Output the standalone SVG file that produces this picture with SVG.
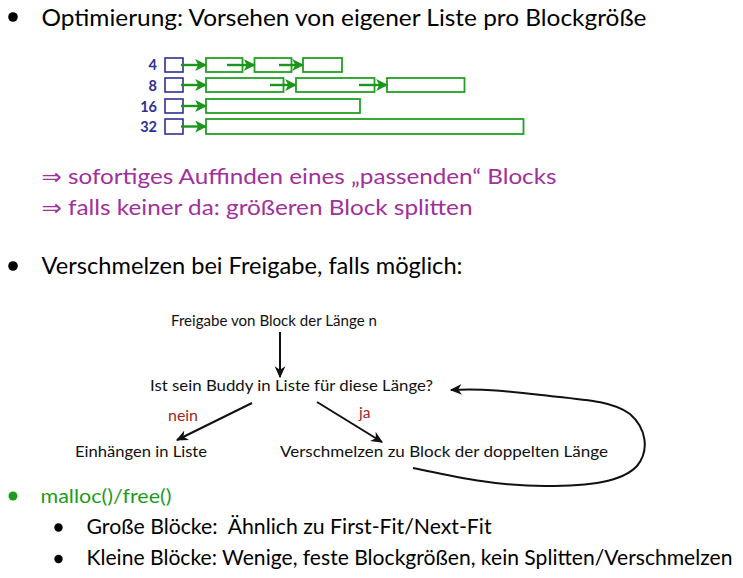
<svg xmlns="http://www.w3.org/2000/svg" width="743" height="578" viewBox="0 0 743 578">
  <defs>
    <style>
      text { font-family: Lato, "Liberation Sans", "DejaVu Sans", sans-serif; }
      .main { font-size: 23.5px; fill: #000; }
      .pink { font-size: 21px; fill: #a0309c; }
      .green { font-size: 19.5px; fill: #1e9b1e; }
      .sub { font-size: 20.5px; fill: #000; }
      .flow { font-size: 16px; fill: #111; }
      .lbl { font-size: 15.5px; fill: #a0261e; }
      .num { font-size: 14.5px; fill: #2e3192; font-weight: bold; text-anchor: end; }
      .hd { fill: none; stroke: #2e3192; stroke-width: 1.6; }
      .blk { fill: none; stroke: #22a022; stroke-width: 1.8; }
      .garr { fill: none; stroke: #1a961a; stroke-width: 2.4; marker-end: url(#gHead); }
      .karr { fill: none; stroke: #111; stroke-width: 2; marker-end: url(#kHead); }
    </style>
    <marker id="gHead" viewBox="0 0 10 10" refX="9" refY="5" markerWidth="5" markerHeight="5" orient="auto" markerUnits="strokeWidth">
      <path d="M0,0 L10,5 L0,10 L2.5,5 Z" fill="#1a961a"/>
    </marker>
    <marker id="kHead" viewBox="0 0 10 10" refX="9" refY="5" markerWidth="6" markerHeight="6" orient="auto" markerUnits="strokeWidth">
      <path d="M0,0.5 L10,5 L0,9.5 L3,5 Z" fill="#111"/>
    </marker>
  </defs>

  <rect width="743" height="578" fill="#fff"/>

  <g id="bullet-optimierung">
    <circle cx="13" cy="17" r="4.8" fill="#000"/>
    <text class="main" x="41.5" y="26" textLength="605" lengthAdjust="spacingAndGlyphs">Optimierung: Vorsehen von eigener Liste pro Blockgröße</text>
  </g>

  <g id="blocklists">
    <g id="row-4">
      <text class="num" x="157" y="70">4</text>
      <rect class="hd" x="165" y="58" width="18" height="14"/>
      <rect class="blk" x="206" y="58" width="36.5" height="14"/>
      <rect class="blk" x="254.5" y="58" width="37" height="14"/>
      <rect class="blk" x="303" y="58" width="39" height="14"/>
    </g>
    <g id="row-8">
      <text class="num" x="157" y="91">8</text>
      <rect class="hd" x="165" y="78" width="18" height="14"/>
      <rect class="blk" x="206" y="78" width="77.5" height="14"/>
      <rect class="blk" x="296" y="78" width="78.5" height="14"/>
      <rect class="blk" x="387" y="78" width="77.5" height="14"/>
    </g>
    <g id="row-16">
      <text class="num" x="157" y="112">16</text>
      <rect class="hd" x="165" y="99" width="18" height="14"/>
      <rect class="blk" x="206" y="99" width="154" height="14"/>
    </g>
    <g id="row-32">
      <text class="num" x="157" y="132">32</text>
      <rect class="hd" x="165" y="119" width="18" height="15"/>
      <rect class="blk" x="206" y="119" width="317.5" height="15"/>
    </g>
  </g>

  <g id="list-connectors">
    <line class="garr" x1="181" y1="65" x2="206" y2="65"/>
    <line class="garr" x1="227" y1="65" x2="254.5" y2="65"/>
    <line class="garr" x1="279" y1="65" x2="303" y2="65"/>
    <line class="garr" x1="181" y1="85" x2="206" y2="85"/>
    <line class="garr" x1="270" y1="85" x2="296" y2="85"/>
    <line class="garr" x1="359" y1="85" x2="387" y2="85"/>
    <line class="garr" x1="181" y1="106" x2="206" y2="106"/>
    <line class="garr" x1="181" y1="126.5" x2="206" y2="126.5"/>
  </g>

  <g id="consequences">
    <text class="pink" x="41.5" y="184" textLength="515" lengthAdjust="spacingAndGlyphs">⇒ sofortiges Auffinden eines „passenden“ Blocks</text>
    <text class="pink" x="41.5" y="215" textLength="431" lengthAdjust="spacingAndGlyphs">⇒ falls keiner da: größeren Block splitten</text>
  </g>

  <g id="bullet-verschmelzen">
    <circle cx="13" cy="266" r="4.8" fill="#000"/>
    <text class="main" x="41.5" y="274" textLength="421" lengthAdjust="spacingAndGlyphs">Verschmelzen bei Freigabe, falls möglich:</text>
  </g>

  <g id="node-freigabe">
    <text class="flow" x="171" y="326" textLength="206" lengthAdjust="spacingAndGlyphs">Freigabe von Block der Länge n</text>
  </g>
  <g id="node-buddy">
    <text class="flow" x="150" y="391" textLength="283" lengthAdjust="spacingAndGlyphs">Ist sein Buddy in Liste für diese Länge?</text>
  </g>
  <g id="node-einhaengen">
    <text class="flow" x="75" y="457" textLength="132" lengthAdjust="spacingAndGlyphs">Einhängen in Liste</text>
  </g>
  <g id="node-verschmelzen">
    <text class="flow" x="280" y="457" textLength="328" lengthAdjust="spacingAndGlyphs">Verschmelzen zu Block der doppelten Länge</text>
  </g>

  <g id="flow-connectors">
    <line class="karr" x1="280" y1="332" x2="280" y2="377"/>
    <line class="karr" x1="252" y1="403" x2="177" y2="440"/>
    <line class="karr" x1="317" y1="402" x2="382" y2="442"/>
    <path class="karr" d="M413,468 C450,476 495,486 545,486 C590,486 622,482 637,466 C650,450 646,428 630,414 C614,402 590,400 550,396 C515,392 485,388 451,390"/>
    <text class="lbl" x="168" y="421" textLength="30" lengthAdjust="spacingAndGlyphs">nein</text>
    <text class="lbl" x="359" y="418">ja</text>
  </g>

  <g id="bullet-malloc">
    <circle cx="13" cy="496" r="4.5" fill="#1e9b1e"/>
    <text class="green" x="40.5" y="502.5" textLength="131" lengthAdjust="spacingAndGlyphs">malloc()/free()</text>
  </g>
  <g id="sub-gross">
    <circle cx="58.5" cy="527.5" r="4.2" fill="#000"/>
    <text class="sub" x="86.5" y="534" textLength="405" lengthAdjust="spacingAndGlyphs" xml:space="preserve">Große Blöcke:  Ähnlich zu First-Fit/Next-Fit</text>
  </g>
  <g id="sub-klein">
    <circle cx="58.5" cy="559" r="4.2" fill="#000"/>
    <text class="sub" x="86.5" y="565" textLength="646" lengthAdjust="spacingAndGlyphs">Kleine Blöcke: Wenige, feste Blockgrößen, kein Splitten/Verschmelzen</text>
  </g>
</svg>
